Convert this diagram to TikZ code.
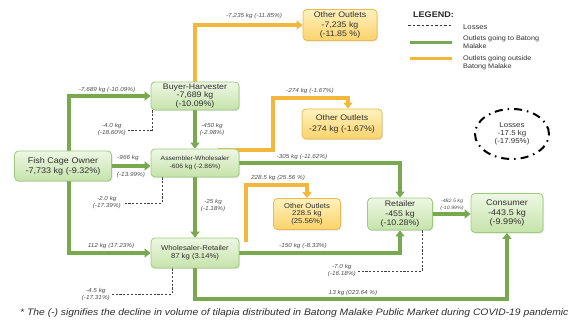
\documentclass[tikz,border=0pt]{standalone}
\usepackage{fontspec}
\setmainfont{Liberation Sans}[FakeStretch=1.1]
\usetikzlibrary{arrows.meta,shadows,backgrounds,shapes.geometric}

\definecolor{flowgreen}{HTML}{78A94E}
\definecolor{flowgold}{HTML}{F2B73B}
\definecolor{gtop}{HTML}{EEF7E4}
\definecolor{gbot}{HTML}{C6E3AA}
\definecolor{gedge}{HTML}{9CCB7C}
\definecolor{otop}{HTML}{FFF2BE}
\definecolor{obot}{HTML}{FAD36A}
\definecolor{oedge}{HTML}{E8BA50}
\definecolor{ink}{HTML}{2E2E2E}

\newcommand{\fsz}[2]{\fontsize{#1}{#2}\selectfont}

\tikzset{
  actor/.style={draw=gedge, line width=0.8pt, rounded corners=4pt,
    top color=gtop, bottom color=gbot, text=ink, align=center,
    inner sep=1pt, font=\fsz{8}{9.5},
    drop shadow={opacity=0.22, shadow xshift=1pt, shadow yshift=-1.2pt}},
  outlet/.style={actor, draw=oedge, top color=otop, bottom color=obot},
  gflow/.style={draw=flowgreen, line width=3.7pt},
  gflowarr/.style={gflow, -{Triangle[length=6pt,width=9pt]}},
  oflow/.style={draw=flowgold, line width=3.7pt},
  oflowarr/.style={oflow, -{Triangle[length=6pt,width=9pt]}},
  lossline/.style={draw=black!75, line width=0.9pt, dash pattern=on 2.2pt off 1.6pt},
  qty/.style={font=\fsz{5.8}{7}\itshape, text=ink!85, align=center, inner sep=0pt},
}

\begin{document}
\begin{tikzpicture}[x=1pt, y=-1pt]
\useasboundingbox (0,0) rectangle (578,328);

% ---- actors in the chain
\node[actor, minimum width=97pt, minimum height=30pt, font=\fsz{8.2}{10}]
  (fco) at (63,166) {Fish Cage Owner\\-7,733 kg (-9.32\%)};
\node[actor, minimum width=88pt, minimum height=28pt, font=\fsz{8}{8.5}] (bh) at (195,96)
  {Buyer-Harvester\\-7,689 kg\\(-10.09\%)};
\node[actor, minimum width=88pt, minimum height=28pt, font=\fsz{6.2}{7.5}]
  (aw) at (195,163) {Assembler-Wholesaler\\-606 kg (-2.86\%)};
\node[actor, minimum width=88pt, minimum height=30pt, font=\fsz{7}{8}]
  (wr) at (195,253) {Wholesaler-Retailer\\87 kg (3.14\%)};
\node[actor, minimum width=65pt, minimum height=32pt] (ret) at (400,214)
  {Retailer\\-455 kg\\(-10.28\%)};
\node[actor, minimum width=72pt, minimum height=39pt, font=\fsz{8.2}{9.5}]
  (con) at (507,213) {Consumer\\-443.5 kg\\(-9.99\%)};

% ---- outlets outside the market
\node[outlet, minimum width=74pt, minimum height=31pt, font=\fsz{8}{9.5}] (oo1) at (340,25)
  {Other Outlets\\-7,235 kg\\(-11.85 \%)};
\node[outlet, minimum width=80pt, minimum height=30pt, font=\fsz{8}{10.5}] (oo2) at (342,124)
  {Other Outlets\\-274 kg (-1.67\%)};
\node[outlet, minimum width=67pt, minimum height=31pt, font=\fsz{7}{7.5}]
  (oo3) at (307,214) {Other Outlets\\228.5 kg\\(25.56\%)};

% ---- total losses
\node[draw=black, line width=2pt, ellipse, minimum width=74pt, minimum height=50pt,
  dash pattern=on 8pt off 5pt on 1.5pt off 5pt, align=center, text=ink,
  font=\fsz{7.2}{8}, inner sep=0pt]
  (loss) at (512,134) {Losses\\-17.5 kg\\(-17.95\%)};

% ---- free ends and bends
\coordinate (l1) at (128,130);
\coordinate (l2) at (123,203);
\coordinate (l3) at (112,294);
\coordinate (l4) at (358,271);
\coordinate (s1) at (218,150);
\coordinate (b1) at (273,98);
\coordinate (s2) at (246,242);
\coordinate (b2) at (246,185);
\coordinate (b3) at (195,299);

\begin{scope}[on background layer]
  % flows staying in the market
  \draw[gflowarr] ([xshift=6pt]fco.north) |- (bh.west);
  \draw[gflowarr] ([xshift=6pt]fco.south) |- (wr.west);
  \draw[gflowarr] (fco.east) -- (fco.east -| aw.west);
  \draw[gflowarr] (bh.south) -- (aw.north);
  \draw[gflowarr] (aw.east) -| (ret.north);
  \draw[gflowarr] (aw.south) -- (wr.north);
  \draw[gflowarr] (wr.east) -| (ret.south);
  \draw[gflowarr] (wr.south) -- (b3) -| (con.south);
  \draw[gflowarr] (ret.east) -- (ret.east -| con.west);
  % flows leaving the market
  \draw[oflowarr] (bh.north) |- (oo1.west);
  \draw[oflowarr] (s1) -| (b1) -| ([xshift=6pt]oo2.north);
  \draw[oflowarr] (s2) -- (b2) -| (oo3.north);
  % losses
  \draw[lossline] ([xshift=-43pt]bh.south) |- (l1);
  \draw[lossline] ([xshift=-33pt]aw.south) |- (l2);
  \draw[lossline] ([xshift=-23pt]wr.south) |- (l3);
  \draw[lossline] ([xshift=22pt]ret.south) |- (l4);
\end{scope}

% ---- quantities on the flows
\node[qty] at (107,90) {-7,689 kg (-10.09\%)};
\node[qty] at (111,246) {112 kg (17.23\%)};
\node[qty] at (128,158) {-966 kg};
\node[qty] at (131,175) {(-13.99\%)};
\node[qty] at (212,130) {-450 kg\\(-2.98\%)};
\node[qty] at (213,206) {-25 kg\\(-1.18\%)};
\node[qty] at (254,16) {-7,235 kg (-11.85\%)};
\node[qty] at (310,91) {-274 kg (-1.67\%)};
\node[qty] at (302,157) {-305 kg (-11.62\%)};
\node[qty] at (278,178) {228.5 kg (25.56 \%)};
\node[qty] at (303,246) {-150 kg (-8.33\%)};
\node[qty] at (353,293) {13 kg (023.64 \%)};
\node[qty, font=\fsz{4.8}{6.5}\itshape] at (452,205) {-482.5 kg\\(-10.99\%)};
\node[qty, anchor=east] at (l1) [xshift=-2pt] {-4.0 kg\\(-18.60\%)};
\node[qty, anchor=east] at (l2) [xshift=-2pt] {-2.0 kg\\(-17.39\%)};
\node[qty, anchor=east] at (l3) [xshift=-2pt] {-4.5 kg\\(-17.31\%)};
\node[qty, anchor=east] at (l4) [xshift=-2pt] {-7.0 kg\\(-16.18\%)};

% ---- legend
\node[anchor=west, font=\fsz{8.2}{9}\bfseries, text=black!85, inner sep=0pt]
  (legt) at (413,15) {LEGEND:};
\coordinate (kd1) at (408,25); \coordinate (kd2) at (452,25);
\coordinate (kg1) at (410,43); \coordinate (kg2) at (452,43);
\coordinate (ko1) at (410,59); \coordinate (ko2) at (452,59);
\draw[draw=black!80, line width=0.8pt, dash pattern=on 2.5pt off 2pt] (kd1) -- (kd2);
\draw[gflow, line width=3pt] (kg1) -- (kg2);
\draw[oflow, line width=3pt] (ko1) -- (ko2);
\node[anchor=west, font=\fsz{7}{8}, text=ink, inner sep=0pt] at (463,27) {Losses};
\node[anchor=west, align=left, font=\fsz{6.6}{8}, text=ink, inner sep=0pt]
  at (463,42) {Outlets going to Batong\\Malake};
\node[anchor=west, align=left, font=\fsz{6.6}{8}, text=ink, inner sep=0pt]
  at (463,63) {Outlets going outside\\Batong Malake};

% ---- footnote
\node[anchor=west, font=\fsz{9.4}{11}\itshape, text=ink, inner sep=0pt]
  (note) at (20,313) {* The (-) signifies the decline in volume of tilapia distributed in Batong Malake Public Market during COVID-19 pandemic};
\end{tikzpicture}
\end{document}
